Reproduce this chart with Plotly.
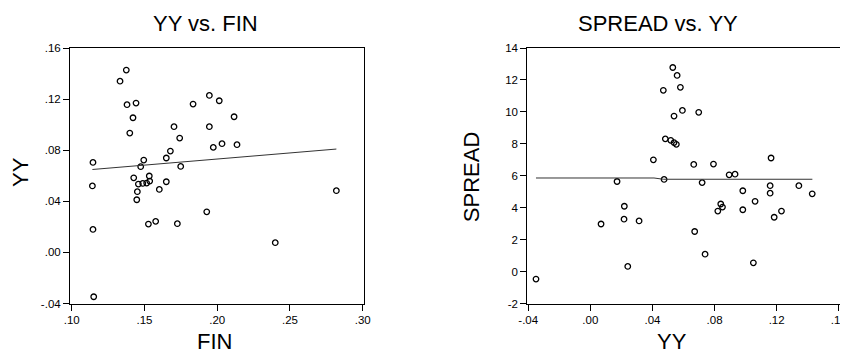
import plotly.graph_objects as go

# ---------------- data ----------------
fin = [0.1146, 0.1332, 0.1375, 0.1380, 0.1442, 0.1421, 0.1399, 0.1703, 0.1742, 0.1834,
       0.1946, 0.2014, 0.2116, 0.1946, 0.1973, 0.2033, 0.2136, 0.1678, 0.1650, 0.1495,
       0.1474, 0.1749, 0.1533, 0.1426, 0.1458, 0.1488, 0.1515, 0.1536, 0.1650, 0.1602,
       0.1451, 0.1447, 0.1142, 0.1146, 0.1151, 0.1527, 0.1577, 0.1726, 0.1928, 0.2399,
       0.2819]
yy_left = [0.0704, 0.1340, 0.1427, 0.1156, 0.1169, 0.1054, 0.0934, 0.0984, 0.0895, 0.1161,
           0.1229, 0.1187, 0.1062, 0.0984, 0.0822, 0.0851, 0.0843, 0.0793, 0.0739, 0.0723,
           0.0671, 0.0673, 0.0598, 0.0584, 0.0535, 0.0540, 0.0543, 0.0558, 0.0553, 0.0493,
           0.0475, 0.0412, 0.0520, 0.0180, -0.0347, 0.0222, 0.0243, 0.0225, 0.0318, 0.0076,
           0.0483]
fit_left_x = [0.1142, 0.2819]
fit_left_y = [0.0649, 0.0809]

yy_right = [0.0531, 0.0559, 0.0470, 0.0580, 0.0593, 0.0539, 0.0698, 0.0483, 0.0518, 0.0539,
            0.0554, 0.0406, 0.0666, 0.0793, 0.0894, 0.0932, 0.1164, 0.0475, 0.0172, 0.0720,
            0.1158, 0.1343, 0.0982, 0.1158, 0.1429, 0.1061, 0.0840, 0.0851, 0.0821, 0.0982,
            0.1231, 0.1184, 0.0219, 0.0217, 0.0314, 0.0069, 0.0672, 0.0739, 0.0241, 0.1050,
            -0.0350]
spread = [12.78, 12.28, 11.35, 11.54, 10.09, 9.74, 9.97, 8.31, 8.22, 8.08,
          7.97, 7.00, 6.71, 6.73, 6.06, 6.10, 7.11, 5.77, 5.64, 5.57,
          5.38, 5.38, 5.06, 4.91, 4.87, 4.40, 4.23, 4.04, 3.79, 3.87,
          3.79, 3.40, 4.09, 3.28, 3.17, 2.98, 2.51, 1.09, 0.32, 0.55,
          -0.47]
fit_right_x = [-0.035, 0.041, 0.047, 0.143]
fit_right_y = [5.86, 5.86, 5.78, 5.78]

left_xticks = [0.10, 0.15, 0.20, 0.25, 0.30]
left_xlabels = [".10", ".15", ".20", ".25", ".30"]
left_yticks = [-0.04, 0.00, 0.04, 0.08, 0.12, 0.16]
left_ylabels = ["-.04", ".00", ".04", ".08", ".12", ".16"]
right_xticks = [-0.04, 0.00, 0.04, 0.08, 0.12, 0.16]
right_xlabels = ["-.04", ".00", ".04", ".08", ".12", ".16"]
right_yticks = [-2, 0, 2, 4, 6, 8, 10, 12, 14]
right_ylabels = ["-2", "0", "2", "4", "6", "8", "10", "12", "14"]

titles = ["YY vs. FIN", "SPREAD vs. YY"]
xtitles = ["FIN", "YY"]
ytitles = ["YY", "SPREAD"]

W, H = 848, 353
OFF = 8  # page body margin: figure pixel = page pixel - OFF
FONT = "Liberation Sans, Arial, sans-serif"


def px(xp):
    return (xp - OFF) / W


def py(yp):
    return 1 - (yp - OFF) / H


fig = go.Figure()

marker = dict(symbol="circle-open", size=5.5, color="black", line=dict(width=1.3, color="black"))

fig.add_trace(go.Scatter(x=fin, y=yy_left, mode="markers", marker=marker,
                         xaxis="x", yaxis="y", showlegend=False))
fig.add_trace(go.Scatter(x=fit_left_x, y=fit_left_y, mode="lines",
                         line=dict(color="#333333", width=1), xaxis="x", yaxis="y", showlegend=False))
fig.add_trace(go.Scatter(x=yy_right, y=spread, mode="markers", marker=marker,
                         xaxis="x2", yaxis="y2", showlegend=False))
fig.add_trace(go.Scatter(x=fit_right_x, y=fit_right_y, mode="lines",
                         line=dict(color="#333333", width=1), xaxis="x2", yaxis="y2", showlegend=False))

ydom = [py(303.5), py(48)]
axis_common = dict(showline=True, linecolor="black", linewidth=1, mirror=True,
                   ticks="outside", ticklen=6, tickcolor="black", tickwidth=1,
                   showgrid=False, zeroline=False, automargin=False,
                   tickfont=dict(family=FONT, size=11.5, color="black"))

fig.update_layout(
    template="none",
    width=W, height=H,
    margin=dict(l=0, r=0, t=0, b=0, pad=0, autoexpand=False),
    paper_bgcolor="white", plot_bgcolor="white",
    showlegend=False,
    xaxis=dict(domain=[px(70), px(364)], range=[0.0988, 0.3009], anchor="y",
               tickmode="array", tickvals=left_xticks, ticktext=left_xlabels, **axis_common),
    yaxis=dict(domain=ydom, range=[-0.04, 0.16], anchor="x",
               tickmode="array", tickvals=left_yticks, ticktext=left_ylabels, **axis_common),
    xaxis2=dict(domain=[px(527.3), px(839.7)], range=[-0.0406, 0.1606], anchor="y2",
                tickmode="array", tickvals=right_xticks, ticktext=right_xlabels, **axis_common),
    yaxis2=dict(domain=ydom, range=[-2, 14], anchor="x2",
                tickmode="array", tickvals=right_yticks, ticktext=right_ylabels, **axis_common),
)

ann_font_t = dict(family=FONT, size=22, color="black")
ann_font_a = dict(family=FONT, size=22, color="black")
annotations = [
    dict(text=titles[0], x=px(205.4), y=py(23.2), font=ann_font_t),
    dict(text=titles[1], x=px(658), y=py(23.2), font=ann_font_t),
    dict(text=xtitles[0], x=px(214), y=py(341), font=ann_font_a),
    dict(text=xtitles[1], x=px(671.5), y=py(341), font=ann_font_a),
    dict(text=ytitles[0], x=px(20.5), y=py(172.5), font=ann_font_a, textangle=-90),
    dict(text=ytitles[1], x=px(471.7), y=py(177.5), font=ann_font_a, textangle=-90),
]
for a in annotations:
    a.update(xref="paper", yref="paper", xanchor="center", yanchor="middle",
             showarrow=False, borderpad=0)
fig.update_layout(annotations=annotations)

fig.write_html("out.html")
